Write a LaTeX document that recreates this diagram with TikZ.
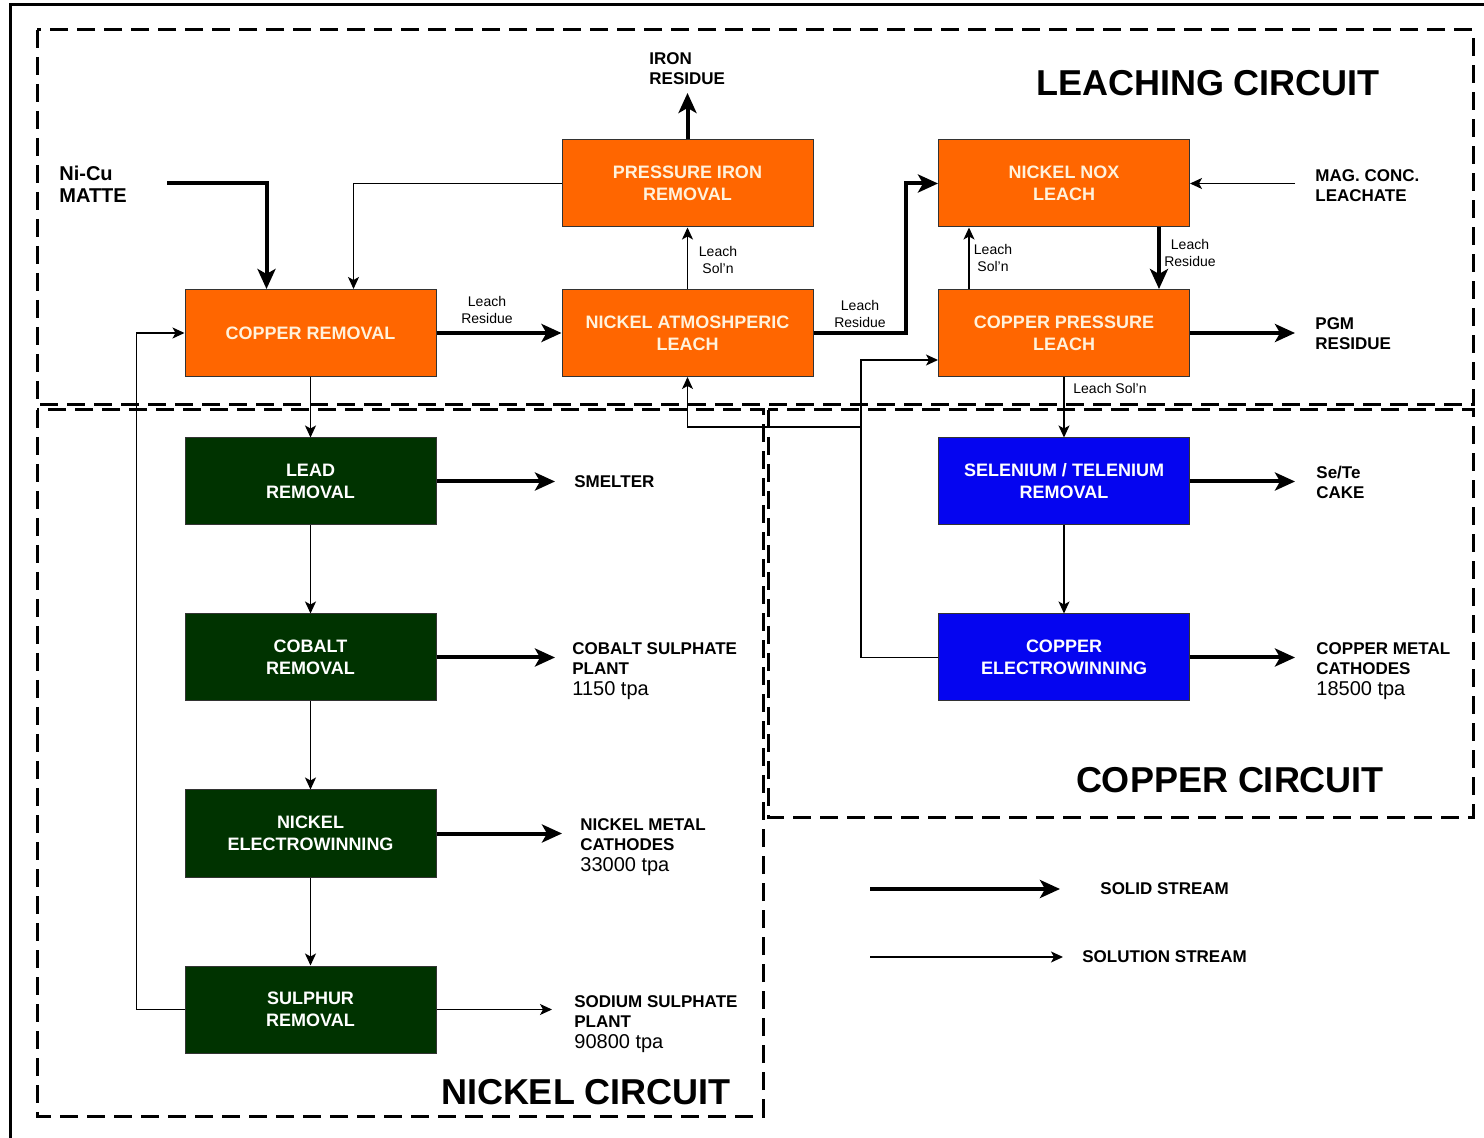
\documentclass[tikz,border=0pt]{standalone}
\usepackage{fontspec}
\setmainfont{Liberation Sans}
\usetikzlibrary{arrows.meta,calc}
\definecolor{procorange}{HTML}{FF6600}
\definecolor{procgreen}{HTML}{003300}
\definecolor{procblue}{HTML}{0505F0}
\definecolor{cream}{HTML}{FFF2DC}
\newcommand\tpafont{\fontsize{10}{10}\selectfont\mdseries}
\begin{document}
\begin{tikzpicture}[x=0.5pt,y=-0.5pt,
  box/.style={draw=black!80,line width=0.5pt,minimum width=125.5pt,minimum height=43.5pt,
    inner sep=0pt,align=center,font=\fontsize{9}{11}\selectfont\bfseries},
  leachbox/.style={box,fill=procorange,text=cream},
  nibox/.style={box,fill=procgreen,text=white},
  cubox/.style={box,fill=procblue,text=white},
  solidflow/.style={line width=2pt,-{Stealth[length=10pt,width=9pt,inset=2.5pt]}},
  solnflow/.style={line width=0.7pt,-{Stealth[length=6pt,width=5.5pt,inset=1.5pt]}},
  zone/.style={line width=1.5pt,dash pattern=on 9pt off 4.5pt},
  tag/.style={font=\fontsize{8.5}{10}\selectfont\bfseries,align=left,anchor=west,inner sep=0pt},
  note/.style={font=\fontsize{7}{8.5}\selectfont,align=center,inner sep=0pt},
  zonetitle/.style={font=\fontsize{18}{20}\selectfont\bfseries,inner sep=0pt},
]
\useasboundingbox (0,0) rectangle (1484,1138);

% frame and circuit zones
\draw[line width=1.5pt] (10,1138) -- (10,5) -- (1484,5);
\draw[zone] (37,30) rectangle (1473,405);
\draw[zone] (37,410) rectangle (763,1116);
\draw[zone] (768,410) rectangle (1473,817);

\node[zonetitle] (tleach) at (1208,83) {LEACHING CIRCUIT};
\node[zonetitle] (tcopper) at (1230,780) {COPPER CIRCUIT};
\node[zonetitle] (tnickel) at (586,1092) {NICKEL CIRCUIT};

% leaching circuit
\node[leachbox] (cr)  at (310.5,333)   {COPPER REMOVAL};
\node[leachbox] (pir) at (687.5,183.5) {PRESSURE IRON\\REMOVAL};
\node[leachbox] (nal) at (687.5,333)   {NICKEL ATMOSHPERIC\\LEACH};
\node[leachbox] (nnl) at (1064,183.5)  {NICKEL NOX\\LEACH};
\node[leachbox] (cpl) at (1064,333)    {COPPER PRESSURE\\LEACH};

% nickel circuit
\node[nibox] (lr)  at (310.5,481.5)  {LEAD\\REMOVAL};
\node[nibox] (cor) at (310.5,657.5)  {COBALT\\REMOVAL};
\node[nibox] (new) at (310.5,833.5)  {NICKEL\\ELECTROWINNING};
\node[nibox] (sr)  at (310.5,1009.5) {SULPHUR\\REMOVAL};

% copper circuit
\node[cubox] (ser) at (1064,481.5) {SELENIUM / TELENIUM\\REMOVAL};
\node[cubox] (cew) at (1064,657.5) {COPPER\\ELECTROWINNING};

% feeds and products
\node[tag,font=\fontsize{10}{11}\selectfont\bfseries] (matte) at (59,184) {Ni-Cu\\MATTE};
\node[tag] (ironres) at (649,69) {IRON\\RESIDUE};
\node[tag] (mag) at (1315,186) {MAG. CONC.\\LEACHATE};
\node[tag] (pgm) at (1315,334) {PGM\\RESIDUE};
\node[tag] (smelter) at (574,482) {SMELTER};
\node[tag] (coso) at (572,671) {COBALT SULPHATE\\PLANT\\[0.8pt]{\tpafont 1150 tpa}};
\node[tag] (nimet) at (580,847) {NICKEL METAL\\CATHODES\\[0.8pt]{\tpafont 33000 tpa}};
\node[tag] (naso) at (574,1024) {SODIUM SULPHATE\\PLANT\\[0.8pt]{\tpafont 90800 tpa}};
\node[tag] (sete) at (1316,482) {Se/Te\\CAKE};
\node[tag] (cumet) at (1316,671) {COPPER METAL\\CATHODES\\[0.8pt]{\tpafont 18500 tpa}};

\coordinate (mattein) at (167,183);
\coordinate (ironout) at (687.5,93);
\coordinate (magin) at (1295,183.5);
\coordinate (pgmout) at (1295,333);
\coordinate (smout) at (555,481.5);
\coordinate (coout) at (555,657.5);
\coordinate (niout) at (562,833.5);
\coordinate (naout) at (552,1009.5);
\coordinate (seout) at (1295,481.5);
\coordinate (cuout) at (1295,657.5);
\coordinate (jn) at (861,427);

% solid streams
\draw[solidflow] (mattein) -| ([xshift=41pt]cr.north west);
\draw[solidflow] (cr.east) -- (nal.west);
\draw[solidflow] (pir.north) -- (ironout);
\draw[solidflow] (nal.east) -- ++(46pt,0) |- (nnl.west);
\draw[solidflow] ([xshift=-15.5pt]nnl.south east) -- ([xshift=-15.5pt]cpl.north east);
\draw[solidflow] (cpl.east) -- (pgmout);
\draw[solidflow] (lr.east) -- (smout);
\draw[solidflow] (cor.east) -- (coout);
\draw[solidflow] (new.east) -- (niout);
\draw[solidflow] (ser.east) -- (seout);
\draw[solidflow] (cew.east) -- (cuout);

% solution streams
\draw[solnflow] (pir.west) -| ([xshift=84.5pt]cr.north west);
\draw[solnflow] (nal.north) -- (pir.south);
\draw[solnflow] (magin) -- (nnl.east);
\draw[solnflow] ([xshift=15.5pt]cpl.north west) -- ([xshift=15.5pt]nnl.south west);
\draw[solnflow] (cpl.south) -- (ser.north);
\draw[solnflow] (cr.south) -- (lr.north);
\draw[solnflow] (lr.south) -- (cor.north);
\draw[solnflow] (cor.south) -- (new.north);
\draw[solnflow] (new.south) -- (sr.north);
\draw[solnflow] (sr.west) -- ++(-24pt,0) |- (cr.west);
\draw[solnflow] (sr.east) -- (naout);
\draw[solnflow] (ser.south) -- (cew.north);
\draw[solnflow] (cew.west) -| (jn) |- ([yshift=-13.5pt]cpl.west);
\draw[solnflow] (jn) -| (nal.south);

% stream labels
\node[note] (l1) at (487,310) {Leach\\Residue};
\node[note] (l2) at (718,260) {Leach\\Sol'n};
\node[note] (l3) at (860,314) {Leach\\Residue};
\node[note] (l4) at (993,258) {Leach\\Sol'n};
\node[note] (l5) at (1190,253) {Leach\\Residue};
\node[note,anchor=west] (l6) at (1073,389) {Leach Sol'n};

% legend
\coordinate (lg1a) at (870,889);
\coordinate (lg1b) at (1060,889);
\coordinate (lg2a) at (870,957);
\coordinate (lg2b) at (1063,957);
\draw[solidflow] (lg1a) -- (lg1b);
\draw[solnflow] (lg2a) -- (lg2b);
\node[tag] (lgsolid) at (1100,889) {SOLID STREAM};
\node[tag] (lgsoln) at (1082,957) {SOLUTION STREAM};
\end{tikzpicture}
\end{document}
